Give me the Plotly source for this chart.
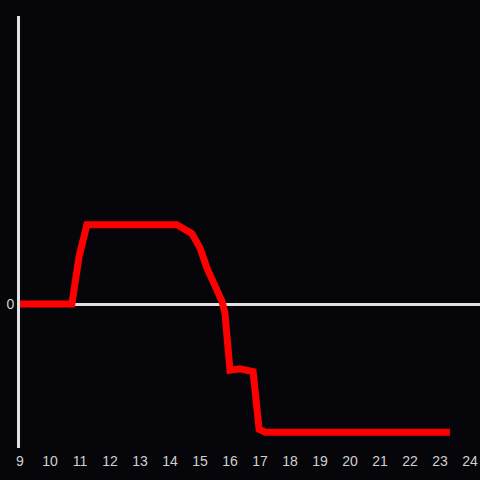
import plotly.graph_objects as go

hours = [9, 10.73, 10.97, 11.23, 14.23, 14.73, 15.0, 15.23, 15.73, 15.83, 16.0, 16.33, 16.77, 16.97, 17.17, 23.33]
values = [0, 0, 0.33, 0.55, 0.55, 0.49, 0.39, 0.25, 0.02, -0.06, -0.46, -0.45, -0.47, -0.87, -0.89, -0.89]
x_ticks = list(range(9, 25))

fig = go.Figure()
fig.add_trace(go.Scatter(x=hours, y=values, mode="lines",
                         line=dict(color="#ff0000", width=7), hoverinfo="skip"))

fig.update_layout(
    width=480, height=480,
    margin=dict(l=20, r=0, t=16, b=32),
    paper_bgcolor="#06050a", plot_bgcolor="#06050a",
    showlegend=False,
    font=dict(family="Liberation Sans, Arial, sans-serif", size=14, color="#d0d0d0"),
    xaxis=dict(range=[9, 24.333], tickvals=x_ticks, ticktext=[str(t) for t in x_ticks],
               showgrid=False, zeroline=False, showline=False, ticks="",
               ticklabelstandoff=3),
    yaxis=dict(range=[-1, 2], tickvals=[0], ticktext=["0"], showgrid=False,
               zeroline=True, zerolinecolor="#e0e0e0", zerolinewidth=3,
               showline=True, linecolor="#e0e0e0", linewidth=3, ticks=""),
)
fig.write_html("out.html", config={"displayModeBar": False},
               post_script="document.body.style.margin='0';document.body.style.background='#06050a';")
